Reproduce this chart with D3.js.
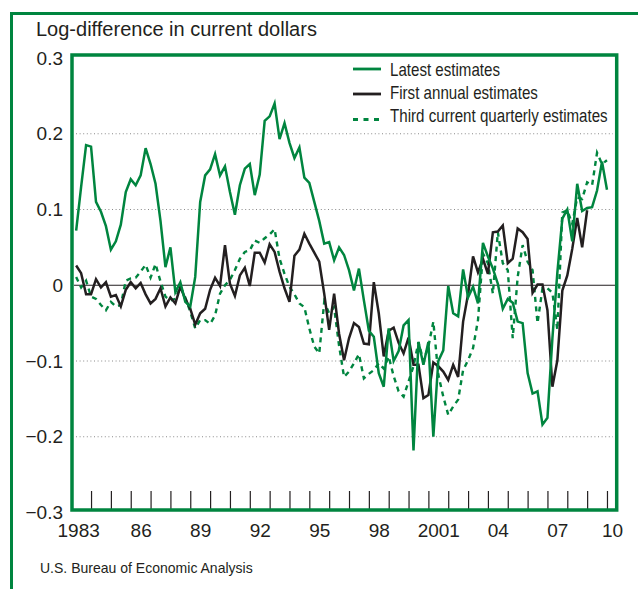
<!DOCTYPE html>
<html>
<head>
<meta charset="utf-8">
<script src="https://cdn.jsdelivr.net/npm/d3@7"></script>
<style>
body { margin: 0; background: #fff; }
svg text { font-family: "Liberation Sans", Arial, Helvetica, sans-serif; fill: #231f20; }
</style>
</head>
<body>
<div id="chart"></div>
<script>
// quarterly values, first point is 1983:Q1
var startYear = 1983;

var latest = [
	0.072, 0.13, 0.185, 0.183, 0.11, 0.097, 0.078, 0.047, 0.058, 0.08,
	0.123, 0.14, 0.132, 0.145, 0.181, 0.16, 0.134, 0.085, 0.024, 0.05,
	-0.009, 0.004, -0.022, -0.028, 0.011, 0.11, 0.145, 0.153, 0.173, 0.145,
	0.157, 0.123, 0.093, 0.132, 0.154, 0.16, 0.119, 0.146, 0.217, 0.223,
	0.24, 0.193, 0.214, 0.188, 0.168, 0.182, 0.142, 0.135, 0.11, 0.085,
	0.055, 0.057, 0.033, 0.05, 0.04, 0.02, -0.007, 0.022, -0.02, -0.06,
	-0.068, -0.116, -0.134, -0.057, -0.1, -0.087, -0.053, -0.046, -0.218, -0.075,
	-0.105, -0.075, -0.2, -0.1, -0.086, -0.001, -0.037, -0.041, 0.021, -0.016,
	-0.002, -0.024, 0.056, 0.038, 0.022, 0.002, -0.031, -0.018, -0.023, -0.048,
	-0.05, -0.116, -0.143, -0.14, -0.184, -0.175, -0.07, 0.017, 0.088, 0.1,
	0.058, 0.134, 0.098, 0.102, 0.103, 0.125, 0.163, 0.126
];

var firstAnnual = [
	0.026, 0.016, -0.012, -0.012, 0.008, -0.003, 0.004, -0.015, -0.013, -0.028,
	-0.006, 0.004, -0.004, 0.003, -0.012, -0.024, -0.018, -0.004, -0.028, -0.016,
	-0.024, -0.002, -0.018, -0.031, -0.052, -0.037, -0.031, -0.006, 0.01, -0.001,
	0.053, 0.002, -0.014, 0.013, 0.023, -0.001, 0.043, 0.043, 0.03, 0.054,
	0.044, 0.018, -0.004, -0.022, 0.039, 0.047, 0.068, 0.055, 0.043, 0.031,
	-0.011, -0.059, -0.011, -0.064, -0.099, -0.07, -0.05, -0.055, -0.077, -0.078,
	0.004, -0.037, -0.094, -0.06, -0.056, -0.076, -0.09, -0.069, -0.105, -0.105,
	-0.149, -0.145, -0.102, -0.107, -0.114, -0.125, -0.105, -0.121, -0.048, -0.012,
	0.038, 0.017, 0.035, 0.015, 0.07, 0.071, 0.079, 0.029, 0.035, 0.075,
	0.07, 0.061, -0.01, 0.001, 0.001, -0.033, -0.134, -0.099, -0.007, 0.013,
	0.048, 0.089, 0.05, 0.099
];

var thirdQuarterly = [
	0.011, -0.003, 0.006, -0.015, -0.018, -0.026, -0.033, -0.022, -0.028, -0.026,
	0.006, 0.009, 0.01, 0.018, 0.027, 0.01, 0.028, 0.005, -0.015, -0.02,
	-0.018, -0.002, -0.016, -0.035, -0.057, -0.046, -0.046, -0.051, -0.04, -0.011,
	0, 0.007, 0.02, 0.035, 0.044, 0.046, 0.059, 0.056, 0.062, 0.067,
	0.074, 0.035, 0.015, -0.002, -0.012, -0.024, -0.029, -0.057, -0.081, -0.09,
	-0.022, -0.037, -0.029, -0.08, -0.121, -0.114, -0.103, -0.091, -0.123, -0.117,
	-0.112, -0.103, -0.11, -0.094, -0.12, -0.14, -0.147, -0.127, -0.107, -0.075,
	-0.1, -0.081, -0.048, -0.118, -0.147, -0.171, -0.16, -0.151, -0.112, -0.099,
	-0.083, -0.046, 0.042, 0.029, -0.011, 0.07, 0.029, 0.02, -0.07, 0.011,
	0.053, 0.031, 0.02, -0.05, -0.004, -0.004, -0.01, -0.059, 0.096, 0.099,
	0.081, 0.116, 0.114, 0.136, 0.132, 0.175, 0.16, 0.165
];

var yTicks = [0.3, 0.2, 0.1, 0, -0.1, -0.2, -0.3];
var gridValues = [0.2, 0.1, -0.1, -0.2];
var labelYears = [1983, 1986, 1989, 1992, 1995, 1998, 2001, 2004, 2007, 2010];
var labelText = ["1983", "86", "89", "92", "95", "98", "2001", "04", "07", "10"];
var legendNames = ["Latest estimates", "First annual estimates", "Third current quarterly estimates"];

var green = "#00853f",
	black = "#231f20";

var svg = d3.select("#chart")
	.append("svg")
		.attr("width", 638)
		.attr("height", 589);

// outer green frame (runs off the right and bottom edge)
svg.append("path")
	.attr("d", "M11.5,589 V13.5 H638")
	.attr("fill", "none")
	.attr("stroke", green)
	.attr("stroke-width", 3);

// scales
var x = d3.scaleLinear()
	.domain([startYear, 2010.5])
	.range([71.2, 616.9]);

var y = d3.scaleLinear()
	.domain([-0.3, 0.3])
	.range([512.5, 58]);

// y title
svg.append("text")
	.attr("x", 36)
	.attr("y", 36)
	.style("font-size", "20px")
	.text("Log-difference in current dollars");

// dotted gridlines
svg.selectAll(".grid")
	.data(gridValues)
	.enter()
	.append("line")
		.attr("class", "grid")
		.attr("x1", 76)
		.attr("x2", 613)
		.attr("y1", function(d) { return y(d) })
		.attr("y2", function(d) { return y(d) })
		.attr("stroke", "#8a8a8a")
		.attr("stroke-width", 1)
		.attr("stroke-dasharray", "1,2.6");

// zero line
svg.append("line")
	.attr("x1", 74)
	.attr("x2", 615)
	.attr("y1", y(0))
	.attr("y2", y(0))
	.attr("stroke", black)
	.attr("stroke-width", 1.1);

// year ticks pointing up from the bottom frame
var tickAxis = svg.append("g")
	.attr("transform", "translate(0,509)")
	.call(d3.axisTop(x).tickValues(d3.range(1984, 2011)).tickSize(18).tickFormat(""));
tickAxis.select(".domain").remove();
tickAxis.selectAll("line").attr("stroke", black).attr("stroke-width", 1.2);

// year labels, centred in the year
var xLab = svg.append("g")
	.attr("transform", "translate(0,520)")
	.call(d3.axisBottom(x)
		.tickValues(labelYears.map(function(d) {
			if (d == startYear) return d + 0.35;
			if (d == 2010) return d + 0.25;
			return d + 0.5;
		}))
		.tickSize(0)
		.tickPadding(3)
		.tickFormat(function(d, i) { return labelText[i] }));
xLab.select(".domain").remove();
xLab.selectAll("text")
	.style("font-size", "19px")
	.attr("fill", black);

// y labels
var yLab = svg.append("g")
	.attr("transform", "translate(66,0)")
	.call(d3.axisLeft(y)
		.tickValues(yTicks)
		.tickSize(0)
		.tickPadding(3)
		.tickFormat(function(d) {
			if (d == 0) return "0";
			return (d < 0 ? "\u2212" : "") + Math.abs(d).toFixed(1);
		}));
yLab.select(".domain").remove();
yLab.selectAll("text")
	.style("font-size", "19px")
	.attr("fill", black);

// series
var line = d3.line()
	.x(function(d, i) { return x(startYear + (i + 1) / 4) })
	.y(function(d) { return y(d) });

svg.append("path")
	.datum(thirdQuarterly)
	.attr("d", line)
	.attr("fill", "none")
	.attr("stroke", green)
	.attr("stroke-width", 2.4)
	.attr("stroke-dasharray", "5,4.5");

svg.append("path")
	.datum(firstAnnual)
	.attr("d", line)
	.attr("fill", "none")
	.attr("stroke", black)
	.attr("stroke-width", 2.5);

svg.append("path")
	.datum(latest)
	.attr("d", line)
	.attr("fill", "none")
	.attr("stroke", green)
	.attr("stroke-width", 2.5);

// plot frame
svg.append("rect")
	.attr("x", 72)
	.attr("y", 55)
	.attr("width", 544.7)
	.attr("height", 455)
	.attr("fill", "none")
	.attr("stroke", green)
	.attr("stroke-width", 3.5);

// condensed text: squeeze horizontally to a given width
function narrowText(px, py, w, size, str) {
	var t = svg.append("text")
		.attr("transform", "translate(" + px + "," + py + ")")
		.style("font-size", size + "px")
		.text(str);
	var k = w / t.node().getComputedTextLength();
	t.attr("transform", "translate(" + px + "," + py + ") scale(" + k + ",1)");
	return t;
}

// legend
var legendY = [69, 94, 119.5],
	legendBase = [76, 99, 121.5],
	legendW = [110, 148, 218],
	legendColor = [green, black, green],
	legendDash = [null, null, "5,5.5"];

legendNames.forEach(function(name, i) {
	svg.append("line")
		.attr("x1", 353)
		.attr("x2", 381)
		.attr("y1", legendY[i])
		.attr("y2", legendY[i])
		.attr("stroke", legendColor[i])
		.attr("stroke-width", 2.8)
		.attr("stroke-dasharray", legendDash[i]);
	narrowText(390, legendBase[i], legendW[i], 18, name);
});

// source
narrowText(40, 573, 213, 14, "U.S. Bureau of Economic Analysis");
</script>
</body>
</html>
